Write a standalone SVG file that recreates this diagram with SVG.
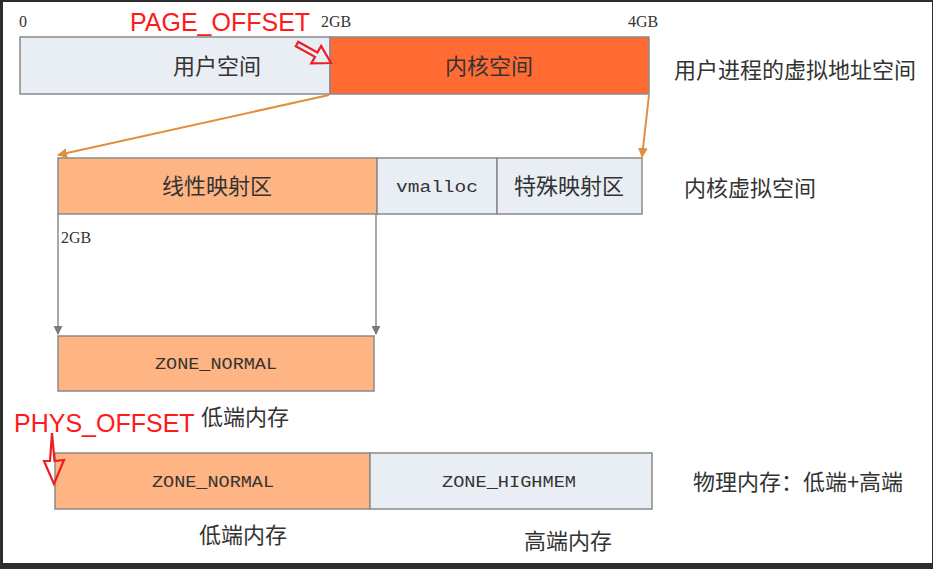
<svg xmlns="http://www.w3.org/2000/svg" width="933" height="569" viewBox="0 0 933 569">
<defs>
<style>
.box{stroke:#8a8a8a;stroke-width:1.5}
.blue{fill:#e9eef4}
.kern{fill:#ff6b33}
.sal{fill:#ffb483}
.cjk{font-family:"Noto Sans CJK SC","Liberation Sans",sans-serif;fill:#333;text-anchor:middle}
.num{font-family:"Liberation Serif",serif;font-size:16px;fill:#333}
.mono{font-family:"Liberation Mono",monospace;font-size:16px;fill:#333;text-anchor:middle}
.red{font-family:"Liberation Sans",sans-serif;font-size:25px;fill:#ff1a1a}
.orange{stroke:#e0903c;stroke-width:2;fill:none}
.grey{stroke:#7a7a7a;stroke-width:1.3;fill:none}
.hollow{fill:none;stroke:#ee1c24;stroke-width:2.2;stroke-linejoin:miter}
</style>
<marker id="ah-orange" viewBox="0 0 10 10" refX="9" refY="5" markerWidth="5" markerHeight="5" orient="auto" markerUnits="strokeWidth">
<path d="M0,0 L10,5 L0,10 z" fill="#e0903c"/>
</marker>
<marker id="ah-grey" viewBox="0 0 10 10" refX="9" refY="5" markerWidth="7" markerHeight="7" orient="auto" markerUnits="strokeWidth">
<path d="M0,0 L10,5 L0,10 z" fill="#7a7a7a"/>
</marker>
</defs>
<rect x="0" y="0" width="933" height="569" fill="#2d2d2f"/>
<rect x="3" y="2" width="929" height="561" fill="#ffffff"/>

<g id="labels-top">
<text class="num" x="19" y="27">0</text>
<text class="num" x="321" y="27">2GB</text>
<text class="num" x="628" y="27">4GB</text>
<text class="red" x="130" y="31">PAGE_OFFSET</text>
</g>

<g id="user-space">
<rect class="box blue" x="20" y="37" width="310" height="57"/>
<text class="cjk" x="217" y="74" font-size="22">用户空间</text>
</g>
<g id="kernel-space">
<rect class="box kern" x="330" y="37" width="319" height="57"/>
<text class="cjk" x="489" y="74" font-size="22">内核空间</text>
</g>
<g id="label-uvas">
<text class="cjk" x="795" y="78" font-size="22">用户进程的虚拟地址空间</text>
</g>

<g id="linear-map">
<rect class="box sal" x="58" y="158" width="319" height="56"/>
<text class="cjk" x="217" y="194" font-size="22">线性映射区</text>
</g>
<g id="vmalloc">
<rect class="box blue" x="377" y="158" width="120" height="56"/>
<text class="mono" x="437" y="192" textLength="82" lengthAdjust="spacingAndGlyphs">vmalloc</text>
</g>
<g id="special-map">
<rect class="box blue" x="497" y="158" width="145" height="56"/>
<text class="cjk" x="569" y="194" font-size="22">特殊映射区</text>
</g>
<g id="label-kvs">
<text class="cjk" x="750" y="196" font-size="22">内核虚拟空间</text>
</g>
<text class="num" x="61" y="243">2GB</text>

<g id="zone-normal-virt">
<rect class="box sal" x="58" y="336" width="316" height="55"/>
<text class="mono" x="216" y="369" textLength="122" lengthAdjust="spacingAndGlyphs">ZONE_NORMAL</text>
<text class="cjk" x="245" y="425" font-size="22">低端内存</text>
</g>

<text class="red" x="14" y="432">PHYS_OFFSET</text>

<g id="zone-normal-phys">
<rect class="box sal" x="55" y="453" width="315" height="56"/>
<text class="mono" x="213" y="487" textLength="122" lengthAdjust="spacingAndGlyphs">ZONE_NORMAL</text>
</g>
<g id="zone-highmem">
<rect class="box blue" x="370" y="453" width="282" height="56"/>
<text class="mono" x="509" y="487" textLength="134" lengthAdjust="spacingAndGlyphs">ZONE_HIGHMEM</text>
</g>
<g id="label-phys">
<text class="cjk" x="798" y="490" font-size="22">物理内存：低端+高端</text>
<text class="cjk" x="243" y="543" font-size="22">低端内存</text>
<text class="cjk" x="568" y="549" font-size="22">高端内存</text>
</g>

<g id="connectors">
<line class="orange" x1="329" y1="95" x2="58" y2="155" marker-end="url(#ah-orange)"/>
<line class="orange" x1="649" y1="95" x2="642" y2="157" marker-end="url(#ah-orange)"/>
<line class="grey" x1="58" y1="214" x2="58" y2="334" marker-end="url(#ah-grey)"/>
<line class="grey" x1="376" y1="214" x2="376" y2="334" marker-end="url(#ah-grey)"/>
<polygon class="hollow" points="298.2,41.8 317.4,52.5 321.1,46 331,63 311.3,63.4 315,56.9 295.8,46.2"/>
<polygon class="hollow" points="52,433 54.5,461 64,460 54,484 44,461 50,461"/>
</g>
</svg>
